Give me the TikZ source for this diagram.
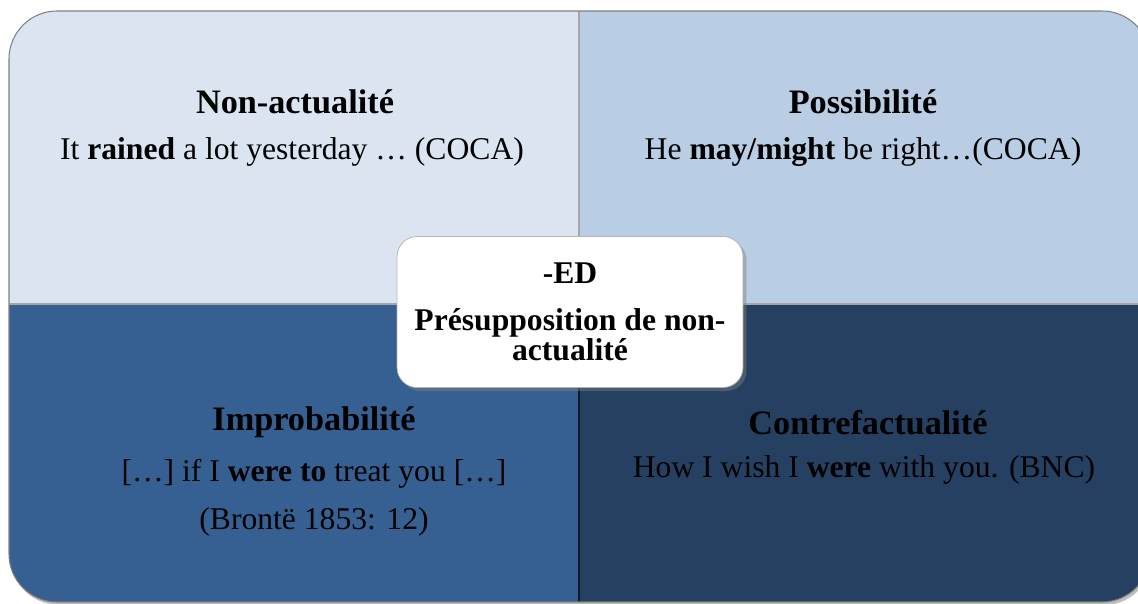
\documentclass[tikz,border=0pt]{standalone}
\usepackage{fontspec}
\setmainfont{Liberation Serif}
\usetikzlibrary{shadows}
\definecolor{quadtl}{HTML}{DBE5F1}
\definecolor{quadtr}{HTML}{B9CDE5}
\definecolor{quadbl}{HTML}{376092}
\definecolor{quadbr}{HTML}{254061}
\begin{document}
\begin{tikzpicture}[x=0.02cm,y=-0.02cm,
	quadtitle/.style={font=\fontsize{19.5}{22}\selectfont\bfseries, align=center},
	quadtext/.style={font=\fontsize{18}{22}\selectfont, align=center},
	centrebox/.style={draw=gray!60, fill=white, rounded corners=0.4cm, minimum width=6.92cm, minimum height=3.02cm, align=center, font=\fontsize{18}{17}\selectfont\bfseries, drop shadow={shadow xshift=2pt, shadow yshift=-2pt, opacity=0.45}}]
	\useasboundingbox (0,0) rectangle (1138,603);
	\begin{scope}
	\clip (0,0) rectangle (1138,603);
	\fill[black, opacity=0.25, rounded corners=0.96cm] (11,14) rectangle (1152,605);
	\begin{scope}
	\clip[rounded corners=0.96cm] (9,11) rectangle (1150,602);
	\fill[quadtl] (9,11) rectangle (579,304);
	\fill[quadtr] (579,11) rectangle (1150,304);
	\fill[quadbl] (9,304) rectangle (579,602);
	\fill[quadbr] (579,304) rectangle (1150,602);
	\draw[gray!70, line width=0.6pt] (579,11) -- (579,304);
	\draw[gray!70, line width=0.6pt] (9,304) -- (1150,304);
	\draw[black!60!quadbr, line width=0.6pt] (579,304) -- (579,602);
	\end{scope}
	\draw[gray, line width=0.6pt, rounded corners=0.96cm] (9,11) rectangle (1150,602);
	\end{scope}
	\node[quadtitle] (nonact) at (295,102) {Non-actualité};
	\node[quadtext] (nonactex) at (292,152) {It \textbf{rained} a lot yesterday … (COCA)};
	\node[quadtitle] (poss) at (863,102) {Possibilité};
	\node[quadtext] (possex) at (863,152) {He \textbf{may/might} be right…(COCA)};
	\node[quadtitle] (improb) at (314,422) {Improbabilité};
	\node[quadtext] (improbex) at (314,474) {[…] if I \textbf{were to} treat you […]};
	\node[quadtext] (improbsrc) at (314,522) {(Brontë 1853: 12)};
	\node[quadtitle] (contref) at (868,423) {Contrefactualité};
	\node[quadtext] (contrefex) at (864,470) {How I wish I \textbf{were} with you. (BNC)};
	\node[centrebox] (ed) at (570,312) {-ED\\[9.5pt]Présupposition de non-\\actualité};
\end{tikzpicture}
\end{document}
